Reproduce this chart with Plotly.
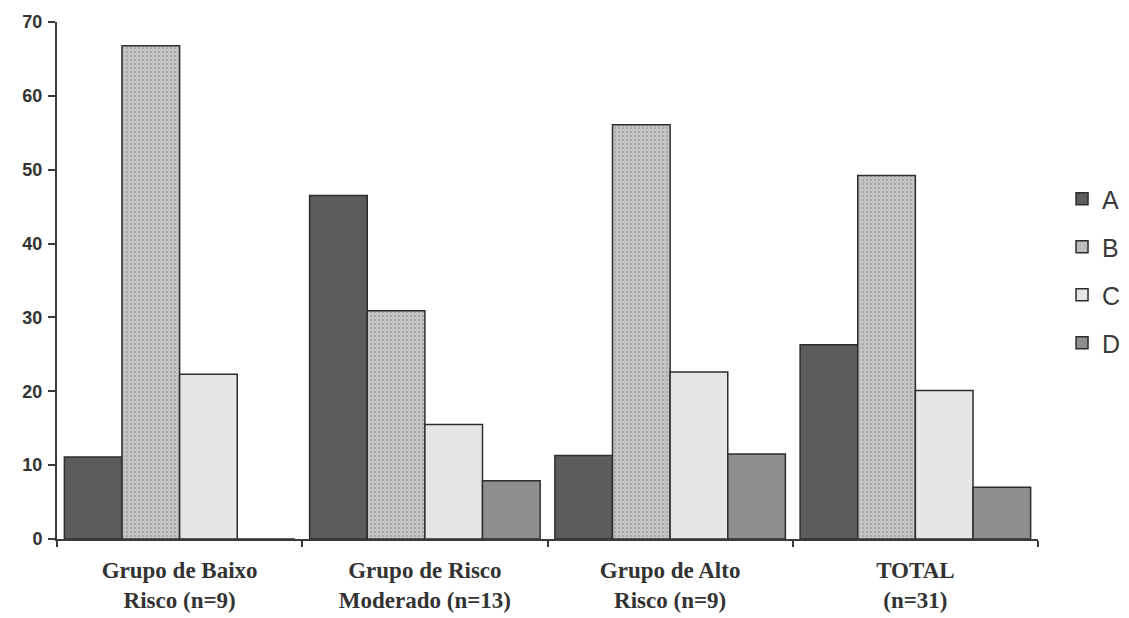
import plotly.graph_objects as go

categories = ["Grupo de Baixo<br>Risco (n=9)", "Grupo de Risco<br>Moderado (n=13)",
              "Grupo de Alto<br>Risco (n=9)", "TOTAL<br>(n=31)"]
series_names = ["A", "B", "C", "D"]
values_A = [11.1, 46.5, 11.3, 26.3]
values_B = [66.8, 30.9, 56.1, 49.2]
values_C = [22.3, 15.5, 22.6, 20.1]
values_D = [0, 7.9, 11.5, 7.0]
y_ticks = [0, 10, 20, 30, 40, 50, 60, 70]

series_values = [values_A, values_B, values_C, values_D]
fills = ["#5c5c5c", "#bdbdbd", "#e6e6e6", "#8e8e8e"]

fig = go.Figure()
for i, (name, vals) in enumerate(zip(series_names, series_values)):
    marker = dict(color=fills[i], line=dict(color="#2e2e2e", width=1.5))
    if name == "B":
        marker["pattern"] = dict(shape=".", fgcolor="#8a8a8a", bgcolor="#c4c4c4", size=4, solidity=0.25)
    fig.add_trace(go.Bar(x=categories, y=vals, name=name, marker=marker, legendgroup=name))

fig.update_layout(
    width=1129, height=618,
    margin=dict(l=57, r=91, t=22, b=79, autoexpand=False),
    paper_bgcolor="white", plot_bgcolor="white",
    barmode="group", bargap=0.06, bargroupgap=0,
    showlegend=True,
    legend=dict(x=1.0245, y=0.702, xanchor="left", yanchor="top",
                font=dict(family="Liberation Sans, Arial", size=25, color="#3a3a3a"),
                traceorder="grouped", tracegroupgap=12.5, bgcolor="rgba(0,0,0,0)"),
    font=dict(family="Liberation Sans, Arial", color="#333333"),
)
fig.update_yaxes(range=[0, 70], tickvals=y_ticks, showgrid=False, zeroline=False,
                 showline=True, linecolor="#3a3a3a", linewidth=2, automargin=False,
                 ticks="outside", ticklen=7, tickwidth=2, tickcolor="#3a3a3a",
                 tickfont=dict(family="Liberation Sans, Arial", size=18, color="#333333"),
                 ticklabelstandoff=2)
fig.update_xaxes(showgrid=False, showline=True, linecolor="#3a3a3a", linewidth=2, automargin=False,
                 ticks="outside", tickson="boundaries", ticklen=6, tickwidth=2, tickcolor="#3a3a3a",
                 tickfont=dict(family="Liberation Serif, Times New Roman", size=23, color="#333333"),
                 ticklabelstandoff=9)
fig.update_xaxes(ticktext=["<b>" + c.replace("<br>", "</b><br><b>") + "</b>" for c in categories],
                 tickvals=categories)
fig.update_yaxes(ticktext=["<b>%d</b>" % t for t in y_ticks])

fig.write_html("out.html", config={"displayModeBar": False},
               post_script="document.body.style.margin='0';document.body.style.overflow='hidden';")
